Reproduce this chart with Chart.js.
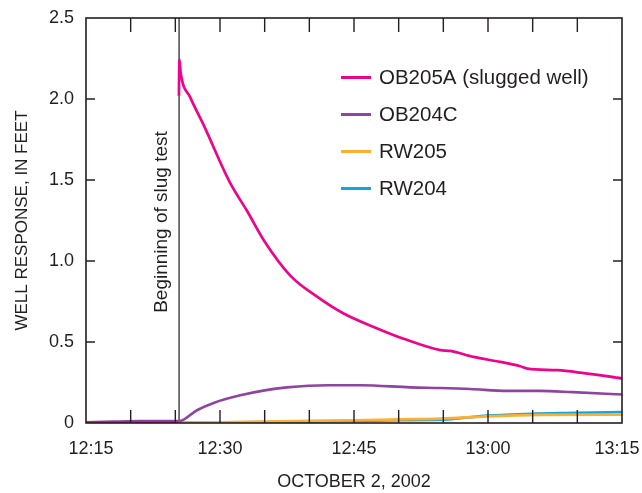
<!DOCTYPE html>
<html>
<head>
<meta charset="utf-8">
<script src="https://cdn.jsdelivr.net/npm/chart.js@4"></script>
<style>
  html, body { margin: 0; padding: 0; background: #fff; }
  #wrap { width: 642px; height: 493px; }
</style>
</head>
<body>
<div id="wrap"><canvas id="wellChart"></canvas></div>
<script>
// minutes after 12:15 on October 2, 2002
const slugStart = 10.42;

// null breaks the line where the slug is dropped in
const timeOB205A = [0, 3, 6, 9, 10.35, 10.38, 10.4, 10.45, 10.6, 11.67, 13.16, 16.15, 18.02, 19.88, 22.87, 25.86, 28.84, 32.2, 35.55, 39.66, 40.78, 43.36, 46.38, 48.62, 49.4, 52.76, 55.33, 60];
const valOB205A  = [0.003, 0.004, 0.003, 0.004, 0.004, null, 2.02, 2.245, 2.16, 2.01, 1.84, 1.48, 1.31, 1.13, 0.91, 0.78, 0.676, 0.593, 0.52, 0.45, 0.445, 0.408, 0.377, 0.35, 0.336, 0.326, 0.311, 0.275];

const timeOB204C = [0, 3, 6, 9, 10.4, 12.42, 14.28, 17.27, 19.84, 22.5, 27.1, 30.8, 36.3, 39.66, 43.0, 47.2, 50.8, 54.5, 60];
const valOB204C  = [0.004, 0.008, 0.011, 0.011, 0.011, 0.079, 0.124, 0.171, 0.2, 0.22, 0.233, 0.233, 0.22, 0.216, 0.21, 0.198, 0.198, 0.19, 0.176];

const timeRW205 = [0, 10, 15, 20, 25, 30, 35, 39.7, 44.9, 50.9, 60];
const valRW205  = [0.002, 0.002, 0.004, 0.009, 0.013, 0.017, 0.022, 0.027, 0.041, 0.05, 0.052];

const timeRW204 = [0, 10, 15, 20, 25, 30, 35, 39.7, 42, 44.9, 50, 55, 60];
const valRW204  = [0.003, 0.002, 0.003, 0.005, 0.008, 0.013, 0.017, 0.02, 0.03, 0.045, 0.057, 0.062, 0.068];

const slugTime = [slugStart, slugStart];
const slugVal  = [0, 2.5];

const yTicks = [0, 0.5, 1.0, 1.5, 2.0, 2.5];

const FONT = '"Liberation Sans", Arial, Helvetica, sans-serif';
const INK = '#231f20';
const NBSP = '\u00a0\u00a0';

function pairs(xs, ys) {
  return xs.map((x, i) => ({ x: x, y: ys[i] }));
}

function clock(m) {
  const total = 12 * 60 + 15 + m;
  const h = Math.floor(total / 60);
  const mm = Math.round(total % 60);
  const s = h + ':' + (mm < 10 ? '0' : '') + mm;
  // end labels sit a little inside the frame, as in the print
  if (m === 0) return NBSP + s;
  if (m === 60) return s + NBSP;
  return s;
}

// box frame with inward ticks
const framePlugin = {
  id: 'frame',
  afterDatasetsDraw(chart) {
    const { ctx, chartArea: a, scales } = chart;
    ctx.save();
    ctx.strokeStyle = INK;
    ctx.lineWidth = 1.6;
    ctx.strokeRect(a.left, a.top, a.right - a.left, a.bottom - a.top);
    ctx.lineWidth = 1.4;
    ctx.beginPath();
    for (let m = 5; m < 60; m += 5) {
      const px = scales.x.getPixelForValue(m);
      ctx.moveTo(px, a.bottom);
      ctx.lineTo(px, a.bottom - 13);
      ctx.moveTo(px, a.top);
      ctx.lineTo(px, a.top + 14);
    }
    yTicks.slice(1, -1).forEach(v => {
      const py = scales.y.getPixelForValue(v);
      ctx.moveTo(a.left, py);
      ctx.lineTo(a.left + 9, py);
      ctx.moveTo(a.right, py);
      ctx.lineTo(a.right - 9, py);
    });
    ctx.stroke();
    ctx.restore();
  },
  afterDraw(chart) {
    const { ctx, scales } = chart;
    ctx.save();
    // slug test label
    const sx = scales.x.getPixelForValue(slugStart);
    ctx.translate(sx - 12, 222);
    ctx.rotate(-Math.PI / 2);
    ctx.fillStyle = INK;
    ctx.font = '19px ' + FONT;
    ctx.textAlign = 'center';
    ctx.textBaseline = 'alphabetic';
    ctx.fillText('Beginning of slug test', 0, 0);
    ctx.restore();

    // legend inside plot
    ctx.save();
    ctx.font = '20.5px ' + FONT;
    ctx.textBaseline = 'middle';
    ctx.textAlign = 'left';
    chart.data.datasets.slice(0, 4).forEach((ds, i) => {
      const y = 77.5 + i * 37;
      ctx.strokeStyle = ds.borderColor;
      ctx.lineWidth = 3;
      ctx.beginPath();
      ctx.moveTo(341, y);
      ctx.lineTo(371, y);
      ctx.stroke();
      ctx.fillStyle = INK;
      ctx.fillText(ds.label, 379, y + 1);
    });
    ctx.restore();
  }
};

const lineStyle = {
  pointRadius: 0,
  borderWidth: 2.7,
  fill: false,
  spanGaps: false,
  cubicInterpolationMode: 'monotone'
};

new Chart(document.getElementById('wellChart'), {
  type: 'line',
  data: {
    datasets: [
      { label: 'OB205A (slugged well)', data: pairs(timeOB205A, valOB205A), borderColor: '#ec058c', ...lineStyle },
      { label: 'OB204C', data: pairs(timeOB204C, valOB204C), borderColor: '#8e44a0', ...lineStyle },
      { label: 'RW205', data: pairs(timeRW205, valRW205), borderColor: '#fbb034', ...lineStyle },
      { label: 'RW204', data: pairs(timeRW204, valRW204), borderColor: '#13a6de', ...lineStyle },
      { label: 'slug', data: pairs(slugTime, slugVal), borderColor: '#555555', borderWidth: 1.6, pointRadius: 0, fill: false }
    ]
  },
  options: {
    responsive: true,
    maintainAspectRatio: false,
    animation: false,
    layout: { padding: { top: 18, right: 20, left: 0, bottom: 0 } },
    plugins: {
      legend: { display: false },
      tooltip: { enabled: false }
    },
    scales: {
      x: {
        type: 'linear',
        min: 0,
        max: 60,
        grid: { display: false, drawTicks: false },
        border: { display: false },
        afterFit: s => { s.height = 70; s.paddingLeft = 0; s.paddingRight = 0; },
        ticks: {
          stepSize: 15,
          padding: 15,
          color: INK,
          font: { family: FONT, size: 18 },
          callback: v => clock(v),
          maxRotation: 0
        },
        title: {
          display: true,
          text: 'OCTOBER 2, 2002',
          color: INK,
          font: { family: FONT, size: 18 },
          padding: { top: 0, bottom: 0 }
        }
      },
      y: {
        min: 0,
        max: 2.5,
        grid: { display: false, drawTicks: false },
        border: { display: false },
        afterFit: s => { s.width = 86; s.paddingTop = 0; s.paddingBottom = 0; },
        afterBuildTicks: s => { s.ticks = yTicks.map(v => ({ value: v })); },
        ticks: {
          padding: 12,
          color: INK,
          font: { family: FONT, size: 18 },
          callback: v => (v === 0 ? '0' : v.toFixed(1))
        },
        title: {
          display: true,
          text: 'WELL RESPONSE, IN FEET',
          color: INK,
          font: { family: FONT, size: 17 },
          padding: { top: 12, bottom: 0 }
        }
      }
    }
  },
  plugins: [framePlugin]
});
</script>
</body>
</html>
